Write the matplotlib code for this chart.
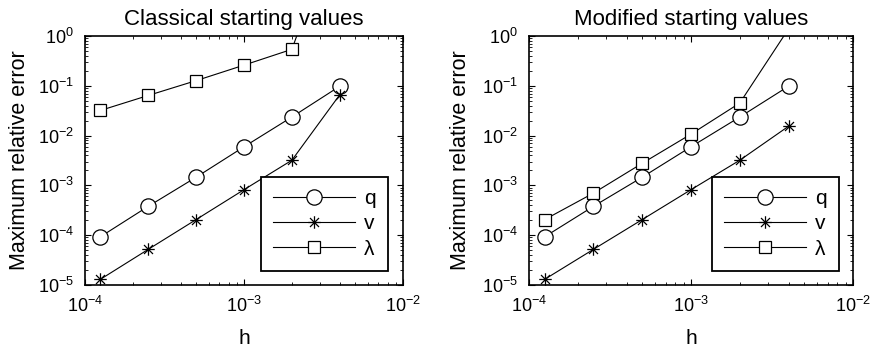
import matplotlib
matplotlib.use("Agg")
import matplotlib.pyplot as plt
from matplotlib.ticker import LogLocator, NullFormatter
from matplotlib.path import Path

plt.rcParams['font.family'] = ['Liberation Sans', 'DejaVu Sans']
plt.rcParams['mathtext.fontset'] = 'custom'
plt.rcParams['mathtext.rm'] = 'Liberation Sans'
plt.rcParams['mathtext.it'] = 'Liberation Sans:italic'

h = [1.25e-4, 2.5e-4, 5e-4, 1e-3, 2e-3, 4e-3]

# Classical starting values
q_classical = [9.3e-5, 3.8e-4, 1.46e-3, 5.96e-3, 0.0236, 0.098]
v_classical = [1.3e-5, 5.2e-5, 2.06e-4, 8.2e-4, 3.2e-3, 0.066]
lam_classical = [0.032, 0.064, 0.127, 0.26, 0.54, 230.0]

# Modified starting values
q_modified = [9.3e-5, 3.8e-4, 1.46e-3, 5.96e-3, 0.0236, 0.098]
v_modified = [1.3e-5, 5.2e-5, 2.06e-4, 8.2e-4, 3.2e-3, 0.0154]
lam_modified = [2.06e-4, 7.0e-4, 2.78e-3, 0.0107, 0.045, 1.39]

titles = ["Classical starting values", "Modified starting values"]
labels = ["q", "v", "λ"]

# MATLAB-like asterisk marker (+ and x superposed)
d = 0.72
ast_verts = [(-1, 0), (1, 0), (0, -1), (0, 1),
             (-d, -d), (d, d), (-d, d), (d, -d)]
ast_codes = [Path.MOVETO, Path.LINETO] * 4
asterisk = Path(ast_verts, ast_codes)

fig = plt.figure(figsize=(8.76, 3.52), dpi=100)
axes = [fig.add_axes([85/876, (352-285)/352, 318/876, 249/352]),
        fig.add_axes([529/876, (352-285)/352, 324/876, 249/352])]

datasets = [(q_classical, v_classical, lam_classical),
            (q_modified, v_modified, lam_modified)]
ylab_x = [-0.172, -0.178]
leg_x = [0.953, 0.957]

fs = 13
for i, (ax, title, (q, v, lam)) in enumerate(zip(axes, titles, datasets)):
    ax.plot(h, q, '-', marker='o', color='black', lw=0.8, markersize=11,
            markerfacecolor='white', markeredgewidth=0.9, label=labels[0])
    ax.plot(h, v, '-', marker=asterisk, color='black', lw=0.8, markersize=9,
            markerfacecolor='none', markeredgewidth=0.9, label=labels[1])
    ax.plot(h, lam, '-', marker='s', color='black', lw=0.8, markersize=8,
            markerfacecolor='white', markeredgewidth=0.9, label=labels[2])
    ax.set_xscale('log')
    ax.set_yscale('log')
    ax.set_xlim(1e-4, 1e-2)
    ax.set_ylim(1e-5, 1e0)
    ax.xaxis.set_major_locator(LogLocator(base=10, numticks=10))
    ax.yaxis.set_major_locator(LogLocator(base=10, numticks=10))
    ax.xaxis.set_minor_locator(LogLocator(base=10, subs=range(2, 10), numticks=20))
    ax.yaxis.set_minor_locator(LogLocator(base=10, subs=range(2, 10), numticks=20))
    ax.xaxis.set_minor_formatter(NullFormatter())
    ax.yaxis.set_minor_formatter(NullFormatter())
    ax.tick_params(which='both', direction='in', top=True, right=True,
                   labelsize=fs, color='black')
    ax.tick_params(which='major', length=4, width=0.8)
    ax.tick_params(which='minor', length=2, width=0.6)
    ax.tick_params(axis='y', pad=8)
    ax.tick_params(axis='x', pad=8)
    for s in ax.spines.values():
        s.set_linewidth(1.2)
    ax.set_title(title, fontsize=16, pad=8)
    ax.set_xlabel('h', fontsize=15)
    ax.xaxis.set_label_coords(0.5, -0.175)
    ax.set_ylabel('Maximum relative error', fontsize=15.5)
    ax.yaxis.set_label_coords(ylab_x[i], 0.5)
    leg = ax.legend(loc='lower right', bbox_to_anchor=(leg_x[i], 0.056),
                    borderaxespad=0, fontsize=15, handlelength=3.9,
                    fancybox=False, framealpha=1, edgecolor='black',
                    labelspacing=0.3, handletextpad=0.45, borderpad=0.6)
    leg.get_frame().set_linewidth(1.3)

fig.savefig('out.png', dpi=100)
